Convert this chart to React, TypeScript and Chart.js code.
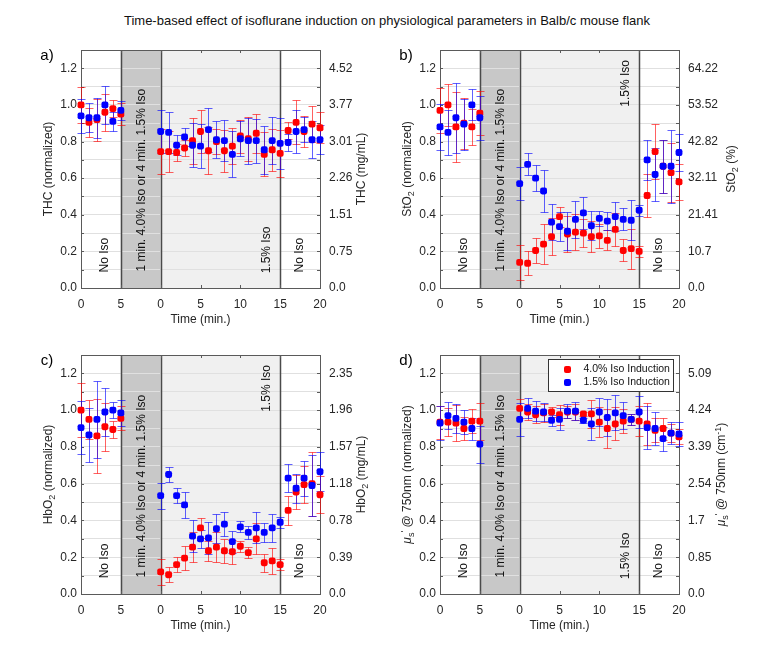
import React, { useEffect, useRef } from 'react';
import { Chart, registerables } from 'chart.js';
Chart.register(...registerables);

const FONT = "'Liberation Sans', Arial, Helvetica, sans-serif";
const TEXT = '#262626';

// ---------- data ----------
const xTickLabels = ['0', '5', '0', '5', '10', '15', '20'];
const baselineTimes = [0, 1, 2, 3, 4, 5];
const postTimes = [0, 1, 2, 3, 4, 5, 6, 7, 8, 9, 10, 11, 12, 13, 14, 15, 16, 17, 18, 19, 20];
const seriesNames = ['4.0% Iso Induction', '1.5% Iso Induction'];

// a) THC
const thcRed = [1.0, 0.905, 0.92, 0.96, 0.98, 0.95,
  0.745, 0.745, 0.74, 0.765, 0.805, 0.855, 0.75, 0.8, 0.75, 0.775, 0.83, 0.815, 0.845, 0.73, 0.755, 0.735, 0.86, 0.905, 0.855, 0.895, 0.875];
const thcRedErr = [0.1, 0.08, 0.115, 0.1, 0.045, 0.06,
  0.125, 0.11, 0.045, 0.045, 0.125, 0.12, 0.13, 0.07, 0.115, 0.1, 0.09, 0.12, 0.105, 0.12, 0.115, 0.13, 0.045, 0.12, 0.085, 0.1, 0.085];
const thcBlue = [0.94, 0.93, 0.93, 1.0, 0.91, 0.97,
  0.855, 0.85, 0.78, 0.825, 0.78, 0.775, 0.865, 0.81, 0.805, 0.73, 0.815, 0.805, 0.805, 0.755, 0.805, 0.79, 0.795, 0.855, 0.865, 0.81, 0.81];
const thcBlueErr = [0.095, 0.08, 0.11, 0.105, 0.05, 0.05,
  0.12, 0.11, 0.055, 0.05, 0.12, 0.12, 0.12, 0.1, 0.11, 0.125, 0.095, 0.125, 0.12, 0.13, 0.13, 0.14, 0.045, 0.12, 0.07, 0.1, 0.08];
const thcRightTicks = ['0.0', '0.75', '1.51', '2.26', '3.01', '3.77', '4.52'];

// b) StO2
const sto2Red = [0.97, 1.0, 0.88, 0.9, 0.88, 0.955,
  0.14, 0.135, 0.205, 0.24, 0.28, 0.39, 0.295, 0.305, 0.3, 0.28, 0.285, 0.26, 0.32, 0.205, 0.215, 0.2, 0.505, 0.745, 0.665, 0.63, 0.58];
const sto2RedErr = [0.125, 0.115, 0.19, 0.14, 0.1, 0.12,
  0.095, 0.065, 0.07, 0.11, 0.1, 0.055, 0.1, 0.1, 0.075, 0.085, 0.065, 0.055, 0.09, 0.06, 0.11, 0.03, 0.115, 0.15, 0.145, 0.16, 0.1];
const sto2Blue = [0.88, 0.85, 0.93, 0.895, 1.0, 0.93,
  0.57, 0.675, 0.6, 0.53, 0.36, 0.335, 0.31, 0.375, 0.41, 0.34, 0.38, 0.365, 0.39, 0.375, 0.37, 0.425, 0.7, 0.62, 0.665, 0.665, 0.74];
const sto2BlueErr = [0.125, 0.125, 0.19, 0.14, 0.085, 0.12,
  0.09, 0.06, 0.07, 0.115, 0.1, 0.08, 0.105, 0.1, 0.085, 0.08, 0.04, 0.05, 0.08, 0.06, 0.11, 0.03, 0.11, 0.145, 0.145, 0.2, 0.1];
const sto2RightTicks = ['0.0', '10.7', '21.41', '32.11', '42.82', '53.52', '64.22'];

// c) HbO2
const hbo2Red = [1.0, 0.95, 0.86, 0.91, 0.895, 0.955,
  0.12, 0.105, 0.16, 0.195, 0.255, 0.36, 0.235, 0.255, 0.235, 0.23, 0.26, 0.225, 0.3, 0.17, 0.18, 0.16, 0.455, 0.555, 0.595, 0.6, 0.54];
const hbo2RedErr = [0.145, 0.105, 0.2, 0.13, 0.045, 0.065,
  0.07, 0.04, 0.04, 0.065, 0.08, 0.055, 0.055, 0.08, 0.065, 0.065, 0.03, 0.03, 0.085, 0.05, 0.07, 0.03, 0.08, 0.09, 0.1, 0.175, 0.1];
const hbo2Blue = [0.905, 0.865, 0.95, 0.99, 1.0, 0.985,
  0.535, 0.65, 0.535, 0.485, 0.315, 0.3, 0.305, 0.355, 0.38, 0.285, 0.365, 0.335, 0.36, 0.335, 0.36, 0.39, 0.63, 0.575, 0.63, 0.59, 0.665];
const hbo2BlueErr = [0.145, 0.145, 0.21, 0.13, 0.045, 0.07,
  0.07, 0.04, 0.04, 0.07, 0.085, 0.05, 0.085, 0.08, 0.065, 0.06, 0.03, 0.035, 0.085, 0.05, 0.075, 0.03, 0.075, 0.08, 0.095, 0.165, 0.105];
const hbo2RightTicks = ['0.0', '0.39', '0.78', '1.18', '1.57', '1.96', '2.35'];

// d) mu_s'
const musRed = [0.935, 0.935, 0.93, 0.9, 0.94, 0.94,
  1.01, 0.99, 0.975, 0.985, 0.99, 0.975, 0.99, 0.99, 0.98, 0.98, 0.935, 0.9, 0.925, 0.94, 0.95, 0.94, 0.925, 0.89, 0.9, 0.875, 0.855];
const musRedErr = [0.09, 0.075, 0.1, 0.065, 0.065, 0.1,
  0.05, 0.045, 0.045, 0.05, 0.025, 0.055, 0.035, 0.045, 0.01, 0.075, 0.08, 0.105, 0.09, 0.065, 0.03, 0.08, 0.115, 0.065, 0.06, 0.05, 0.04];
const musBlue = [0.93, 0.97, 0.955, 0.935, 0.9, 0.815,
  0.95, 1.01, 0.995, 0.99, 0.945, 0.95, 0.995, 0.995, 0.945, 0.925, 0.99, 0.96, 0.985, 0.97, 0.95, 0.99, 0.905, 0.9, 0.845, 0.875, 0.87];
const musBlueErr = [0.09, 0.075, 0.08, 0.065, 0.06, 0.1,
  0.09, 0.055, 0.055, 0.05, 0.03, 0.06, 0.04, 0.05, 0.015, 0.085, 0.075, 0.1, 0.095, 0.075, 0.03, 0.085, 0.115, 0.09, 0.065, 0.06, 0.065];
const musRightTicks = ['0.0', '0.85', '1.7', '2.54', '3.39', '4.24', '5.09'];

// ---------- layout constants ----------
const POST_OFFSET = 10; // post-induction time 0 sits at axis position 10
const INDUCTION_START = 5;
const INDUCTION_END = 10;
const ISO_END = 25;
const xPositions = [...baselineTimes, ...postTimes.map((t) => t + POST_OFFSET)];

const RED = '#ff0000';
const BLUE = '#0000ff';
const RED_ERR = 'rgba(255,0,0,0.62)';
const BLUE_ERR = 'rgba(0,0,255,0.62)';

type Seg = { t: string; sub?: boolean; sup?: boolean; it?: boolean };

function drawRich(ctx: CanvasRenderingContext2D, segs: Seg[], cx: number, cy: number, size: number, rot: number) {
  ctx.save();
  ctx.translate(cx, cy);
  ctx.rotate(rot);
  ctx.textBaseline = 'middle';
  ctx.textAlign = 'left';
  ctx.fillStyle = TEXT;
  const fontOf = (s: Seg) => `${s.it ? 'italic ' : ''}${s.sub || s.sup ? Math.round(size * 0.72) : size}px ${FONT}`;
  let total = 0;
  for (const s of segs) {
    ctx.font = fontOf(s);
    total += ctx.measureText(s.t).width;
  }
  let x = -total / 2;
  for (const s of segs) {
    ctx.font = fontOf(s);
    const dy = s.sub ? size * 0.32 : s.sup ? -size * 0.32 : 0;
    ctx.fillText(s.t, x, dy);
    x += ctx.measureText(s.t).width;
  }
  ctx.restore();
}

function drawRot(ctx: CanvasRenderingContext2D, text: string, x: number, y: number, align: CanvasTextAlign) {
  ctx.save();
  ctx.translate(x, y);
  ctx.rotate(-Math.PI / 2);
  ctx.textAlign = align;
  ctx.textBaseline = 'middle';
  ctx.font = `12px ${FONT}`;
  ctx.fillStyle = '#111';
  ctx.fillText(text, 0, 0);
  ctx.restore();
}

type PanelCfg = {
  letter: string;
  left: number; top: number; w: number; h: number;
  leftW: number; rightW: number; padTop: number; xH: number;
  red: number[]; redErr: number[]; blue: number[]; blueErr: number[];
  rightTicks: string[];
  leftTitle: Seg[]; rightTitle: Seg[]; rightTitleOff: number;
  isoTop: boolean; legend: boolean;
};

const panels: PanelCfg[] = [
  {
    letter: 'a)', left: 0, top: 30, w: 384, h: 305, leftW: 81, rightW: 64, padTop: 20, xH: 47,
    red: thcRed, redErr: thcRedErr, blue: thcBlue, blueErr: thcBlueErr, rightTicks: thcRightTicks,
    leftTitle: [{ t: 'THC (normalized)' }], rightTitle: [{ t: 'THC (mg/mL)' }], rightTitleOff: 42,
    isoTop: false, legend: false,
  },
  {
    letter: 'b)', left: 384, top: 30, w: 384, h: 305, leftW: 56, rightW: 89, padTop: 20, xH: 47,
    red: sto2Red, redErr: sto2RedErr, blue: sto2Blue, blueErr: sto2BlueErr, rightTicks: sto2RightTicks,
    leftTitle: [{ t: 'StO' }, { t: '2', sub: true }, { t: ' (normalized)' }],
    rightTitle: [{ t: 'StO' }, { t: '2', sub: true }, { t: ' (%)' }], rightTitleOff: 53,
    isoTop: true, legend: false,
  },
  {
    letter: 'c)', left: 0, top: 335, w: 384, h: 311, leftW: 81, rightW: 64, padTop: 20, xH: 52,
    red: hbo2Red, redErr: hbo2RedErr, blue: hbo2Blue, blueErr: hbo2BlueErr, rightTicks: hbo2RightTicks,
    leftTitle: [{ t: 'HbO' }, { t: '2', sub: true }, { t: ' (normalized)' }],
    rightTitle: [{ t: 'HbO' }, { t: '2', sub: true }, { t: ' (mg/mL)' }], rightTitleOff: 42,
    isoTop: true, legend: false,
  },
  {
    letter: 'd)', left: 384, top: 335, w: 384, h: 311, leftW: 56, rightW: 89, padTop: 20, xH: 52,
    red: musRed, redErr: musRedErr, blue: musBlue, blueErr: musBlueErr, rightTicks: musRightTicks,
    leftTitle: [{ t: 'μ', it: true }, { t: 's', sub: true }, { t: "'", sup: true }, { t: ' @ 750nm (normalized)' }],
    rightTitle: [{ t: 'μ', it: true }, { t: 's', sub: true }, { t: "'", sup: true }, { t: ' @ 750nm (cm' }, { t: '-1', sup: true }, { t: ')' }],
    rightTitleOff: 43,
    isoTop: false, legend: true,
  },
];

function drawMarker(ctx: CanvasRenderingContext2D, x: number, y: number, color: string) {
  ctx.save();
  ctx.fillStyle = color;
  ctx.beginPath();
  (ctx as any).roundRect(x - 3.5, y - 3.5, 7, 7, 2);
  ctx.fill();
  ctx.restore();
}

function makePlugin(cfg: PanelCfg) {
  return {
    id: 'decor',
    beforeDraw(chart: any) {
      const { ctx, chartArea: a, scales } = chart;
      const x = scales.x;
      ctx.save();
      ctx.fillStyle = '#c8c8c8';
      ctx.fillRect(x.getPixelForValue(INDUCTION_START), a.top, x.getPixelForValue(INDUCTION_END) - x.getPixelForValue(INDUCTION_START), a.bottom - a.top);
      ctx.fillStyle = '#f0f0f0';
      ctx.fillRect(x.getPixelForValue(INDUCTION_END), a.top, x.getPixelForValue(ISO_END) - x.getPixelForValue(INDUCTION_END), a.bottom - a.top);
      ctx.restore();
    },
    beforeDatasetsDraw(chart: any) {
      const { ctx, chartArea: a, scales } = chart;
      const x = scales.x;
      const y = scales.y;
      ctx.save();
      // region boundary lines
      ctx.strokeStyle = '#4a4a4a';
      ctx.lineWidth = 1.5;
      for (const v of [INDUCTION_START, INDUCTION_END, ISO_END]) {
        const px = Math.round(x.getPixelForValue(v)) + 0.5;
        ctx.beginPath();
        ctx.moveTo(px, a.top);
        ctx.lineTo(px, a.bottom);
        ctx.stroke();
      }
      // box
      ctx.strokeStyle = '#5a5a5a';
      ctx.lineWidth = 1;
      ctx.strokeRect(Math.round(a.left) + 0.5, Math.round(a.top) + 0.5, Math.round(a.right - a.left), Math.round(a.bottom - a.top));
      // inward ticks
      ctx.beginPath();
      for (let k = 0; k <= 13; k++) {
        const py = Math.round(y.getPixelForValue(k / 10)) + 0.5;
        ctx.moveTo(a.left, py); ctx.lineTo(a.left + 3, py);
        ctx.moveTo(a.right, py); ctx.lineTo(a.right - 3, py);
      }
      for (let v = 0; v <= 30; v += 5) {
        const px = Math.round(x.getPixelForValue(v)) + 0.5;
        ctx.moveTo(px, a.bottom); ctx.lineTo(px, a.bottom - 3);
        ctx.moveTo(px, a.top); ctx.lineTo(px, a.top + 3);
      }
      ctx.stroke();
      // region labels
      drawRot(ctx, 'No Iso', x.getPixelForValue(3.0), y.getPixelForValue(0.085), 'left');
      drawRot(ctx, '1 min. 4.0% Iso or 4 min. 1.5% Iso', x.getPixelForValue(7.6), y.getPixelForValue(0.09), 'left');
      if (cfg.isoTop) drawRot(ctx, '1.5% Iso', x.getPixelForValue(23.25), y.getPixelForValue(1.245), 'right');
      else drawRot(ctx, '1.5% Iso', x.getPixelForValue(23.25), y.getPixelForValue(0.08), 'left');
      drawRot(ctx, 'No Iso', x.getPixelForValue(27.4), y.getPixelForValue(0.085), 'left');
      // error bars
      chart.data.datasets.forEach((ds: any) => {
        ctx.strokeStyle = ds.errColor;
        ctx.lineWidth = 1;
        ctx.beginPath();
        ds.data.forEach((p: any, i: number) => {
          const e = ds.errors[i];
          const px = Math.round(x.getPixelForValue(p.x)) + 0.5;
          const t = Math.round(y.getPixelForValue(p.y + e)) + 0.5;
          const b = Math.round(y.getPixelForValue(p.y - e)) + 0.5;
          ctx.moveTo(px, t); ctx.lineTo(px, b);
          ctx.moveTo(px - 4, t); ctx.lineTo(px + 4, t);
          ctx.moveTo(px - 4, b); ctx.lineTo(px + 4, b);
        });
        ctx.stroke();
      });
      ctx.restore();
    },
    afterDraw(chart: any) {
      const { ctx, chartArea: a } = chart;
      const cy = (a.top + a.bottom) / 2;
      drawRich(ctx, cfg.leftTitle, a.left - 32, cy, 12, -Math.PI / 2);
      drawRich(ctx, cfg.rightTitle, a.right + cfg.rightTitleOff, cy, 12, -Math.PI / 2);
      drawRich(ctx, [{ t: 'Time (min.)' }], (a.left + a.right) / 2, a.bottom + 32, 12, 0);
      ctx.save();
      ctx.font = `15px ${FONT}`;
      ctx.fillStyle = '#000';
      ctx.textAlign = 'center';
      ctx.textBaseline = 'middle';
      ctx.fillText(cfg.letter, a.left - 34, a.top + 6);
      ctx.restore();
      if (cfg.legend) {
        const bw = 125, bh = 32;
        const bx = Math.round(a.right - 6 - bw) + 0.5;
        const by = Math.round(a.top + 4) + 0.5;
        ctx.save();
        ctx.fillStyle = '#fff';
        ctx.fillRect(bx, by, bw, bh);
        ctx.strokeStyle = '#333';
        ctx.lineWidth = 1;
        ctx.strokeRect(bx, by, bw, bh);
        ctx.font = `10.5px ${FONT}`;
        ctx.textAlign = 'left';
        ctx.textBaseline = 'middle';
        chart.data.datasets
          .slice()
          .sort((p: any, q: any) => p.legendIndex - q.legendIndex)
          .forEach((ds: any, i: number) => {
            const ry = by + 10 + i * 13;
            drawMarker(ctx, bx + 19, ry, ds.backgroundColor);
            ctx.fillStyle = '#111';
            ctx.fillText(ds.label, bx + 35, ry);
          });
        ctx.restore();
      }
    },
  };
}

function Panel({ cfg }: { cfg: PanelCfg }) {
  const ref = useRef<HTMLCanvasElement>(null);
  useEffect(() => {
    const mk = (vals: number[]) => vals.map((v, i) => ({ x: xPositions[i], y: v }));
    const tickFont = { family: FONT, size: 12 };
    const chart = new Chart(ref.current as HTMLCanvasElement, {
      type: 'scatter',
      data: {
        datasets: [
          {
            label: seriesNames[0], data: mk(cfg.red), errors: cfg.redErr, errColor: RED_ERR, legendIndex: 0,
            backgroundColor: RED, borderWidth: 0, pointStyle: 'rectRounded', pointRadius: 4, order: 1, clip: false,
          } as any,
          {
            label: seriesNames[1], data: mk(cfg.blue), errors: cfg.blueErr, errColor: BLUE_ERR, legendIndex: 1,
            backgroundColor: BLUE, borderWidth: 0, pointStyle: 'rectRounded', pointRadius: 4, order: 0, clip: false,
          } as any,
        ],
      },
      options: {
        animation: false,
        responsive: false,
        devicePixelRatio: 1,
        layout: { padding: { top: cfg.padTop, left: 0, right: 0, bottom: 0 } },
        plugins: { legend: { display: false }, tooltip: { enabled: false } },
        events: [],
        scales: {
          x: {
            type: 'linear', min: 0, max: 30,
            grid: { display: false, drawTicks: false },
            border: { display: false },
            ticks: {
              stepSize: 5, autoSkip: false, maxRotation: 0, padding: 9, color: TEXT, font: tickFont,
              callback: (_v: any, i: number) => xTickLabels[i],
            },
            afterFit: (s: any) => { s.height = cfg.xH; },
          },
          y: {
            type: 'linear', position: 'left', min: 0, max: 1.3,
            grid: { color: '#e0e0e0', drawTicks: false, lineWidth: 1 },
            border: { display: false },
            ticks: {
              stepSize: 0.1, autoSkip: false, padding: 4, color: TEXT, font: tickFont,
              callback: (v: any) => {
                const k = Math.round(Number(v) * 10);
                return k % 2 === 0 && k <= 12 ? (k / 10).toFixed(1) : '';
              },
            },
            afterFit: (s: any) => { s.width = cfg.leftW; },
          },
          y2: {
            type: 'linear', position: 'right', min: 0, max: 1.3,
            grid: { drawOnChartArea: false, drawTicks: false },
            border: { display: false },
            ticks: {
              stepSize: 0.2, includeBounds: false, autoSkip: false, padding: 9, color: TEXT, font: tickFont,
              callback: (v: any) => cfg.rightTicks[Math.round(Number(v) / 0.2)] ?? '',
            },
            afterFit: (s: any) => { s.width = cfg.rightW; },
          },
        },
      } as any,
      plugins: [makePlugin(cfg)],
    });
    return () => chart.destroy();
  }, []);
  return (
    <canvas
      ref={ref}
      width={cfg.w}
      height={cfg.h}
      style={{ position: 'absolute', left: cfg.left, top: cfg.top, width: cfg.w, height: cfg.h }}
    />
  );
}

export default function App() {
  return (
    <div style={{ position: 'absolute', left: 0, top: 0, width: 768, height: 646, background: '#fff', overflow: 'hidden' }}>
      <div
        style={{
          position: 'absolute', left: 0, top: 13, width: 774, textAlign: 'center',
          font: `13px ${FONT}`, lineHeight: '16px', color: '#111',
        }}
      >
        Time-based effect of isoflurane induction on physiological parameters in Balb/c mouse flank
      </div>
      {panels.map((p) => (
        <Panel key={p.letter} cfg={p} />
      ))}
    </div>
  );
}
